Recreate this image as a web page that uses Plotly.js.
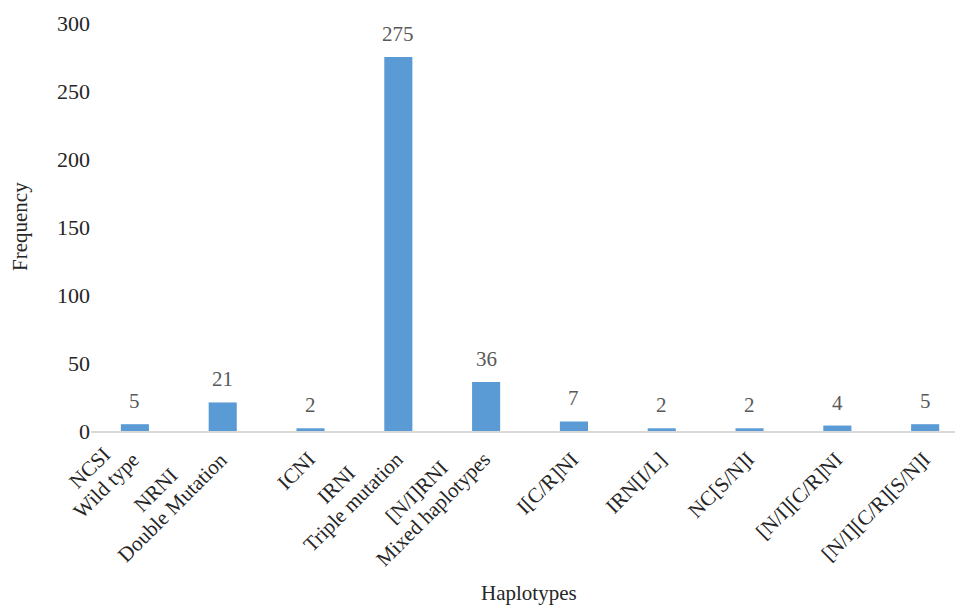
<!DOCTYPE html>
<html>
<head>
<meta charset="utf-8">
<script src="https://cdn.plot.ly/plotly-3.0.1.min.js"></script>
<style>
  html, body { margin: 0; padding: 0; background: #fff; }
  #chart { width: 955px; height: 607px; }
</style>
</head>
<body>
<div id="chart"></div>
<script>
// Haplotype codes and (optional) descriptive second line
const haplotypeCodes = [
  "NCSI", "NRNI", "ICNI", "IRNI", "[N/I]RNI",
  "I[C/R]NI", "IRN[I/L]", "NC[S/N]I", "[N/I][C/R]NI", "[N/I][C/R][S/N]I"
];
const haplotypeNotes = [
  "Wild type", "Double Mutation", "", "Triple mutation", "Mixed haplotypes",
  "", "", "", "", ""
];
const frequency = [5, 21, 2, 275, 36, 7, 2, 2, 4, 5];
const yTicks = [0, 50, 100, 150, 200, 250, 300];

const FONT_FAMILY = "Liberation Serif, Times New Roman, serif";
const FONT_SIZE = 21;
const TEXT_DARK = "#262626";
const TEXT_GRAY = "#595959";

// Plot area geometry (px)
const M = { l: 91, r: 0, t: 23, b: 176 };
const W = 955, H = 607;
const plotW = W - M.l - M.r;
const plotH = H - M.t - M.b;

// Measure label widths so that multi-line rotated labels can be centred line by line
const ctx = document.createElement("canvas").getContext("2d");
ctx.font = FONT_SIZE + "px 'Liberation Serif'";
const textWidth = s => ctx.measureText(s).width;

const idx = haplotypeCodes.map((_, i) => i);
const annotations = [];

// Rotated category labels (-45°), lines centred on each other, last line ends at the tick
const c = Math.SQRT1_2;
const END_DX = 1, END_DY = 25, LINE_H = 24;
idx.forEach(i => {
  const lines = haplotypeNotes[i] ? [haplotypeCodes[i], haplotypeNotes[i]] : [haplotypeCodes[i]];
  const wLast = textWidth(lines[lines.length - 1]);
  const cx = END_DX - (wLast / 2) * c;
  const cy = END_DY + (wLast / 2) * c;
  lines.forEach((line, k) => {
    const back = (lines.length - 1 - k) * LINE_H;
    annotations.push({
      x: i, y: 0, xref: "x", yref: "y",
      text: line, showarrow: false, textangle: -45,
      xanchor: "center", yanchor: "middle",
      xshift: cx - back * c,
      yshift: -(cy - back * c),
      font: { family: FONT_FAMILY, size: FONT_SIZE, color: TEXT_DARK }
    });
  });
});

// Value labels above each bar
idx.forEach(i => {
  annotations.push({
    x: i, y: frequency[i], xref: "x", yref: "y",
    text: String(frequency[i]), showarrow: false,
    xanchor: "center", yanchor: "bottom", yshift: 9,
    font: { family: FONT_FAMILY, size: FONT_SIZE, color: TEXT_GRAY }
  });
});

// Axis titles
annotations.push({
  xref: "paper", yref: "paper",
  x: (529 - M.l) / plotW, y: -(H - 1 - (M.t + plotH)) / plotH,
  xanchor: "center", yanchor: "bottom",
  text: "Haplotypes", showarrow: false, borderpad: 0,
  font: { family: FONT_FAMILY, size: FONT_SIZE, color: TEXT_DARK }
});
annotations.push({
  xref: "paper", yref: "paper",
  x: -(M.l - 20) / plotW, y: 0.5,
  xanchor: "center", yanchor: "middle", textangle: -90,
  text: "Frequency", showarrow: false,
  font: { family: FONT_FAMILY, size: FONT_SIZE, color: TEXT_DARK }
});

const trace = {
  type: "bar",
  x: idx,
  y: frequency,
  marker: { color: "#5B9BD5" },
  hoverinfo: "y"
};

const layout = {
  width: W,
  height: H,
  margin: M,
  paper_bgcolor: "#fff",
  plot_bgcolor: "#fff",
  showlegend: false,
  bargap: 0.68,
  annotations: annotations,
  xaxis: {
    range: [-0.5, 9.34],
    showticklabels: false,
    ticks: "",
    showgrid: false,
    zeroline: false,
    showline: true,
    linecolor: "#D9D9D9",
    linewidth: 1.5,
    automargin: false
  },
  yaxis: {
    range: [0, 300],
    tickmode: "array",
    tickvals: yTicks,
    ticktext: yTicks.map(String),
    ticks: "",
    showgrid: false,
    zeroline: false,
    showline: false,
    tickfont: { family: FONT_FAMILY, size: FONT_SIZE + 1, color: TEXT_DARK },
    automargin: false
  }
};

Plotly.newPlot("chart", [trace], layout, { staticPlot: true, displayModeBar: false });
</script>
</body>
</html>
